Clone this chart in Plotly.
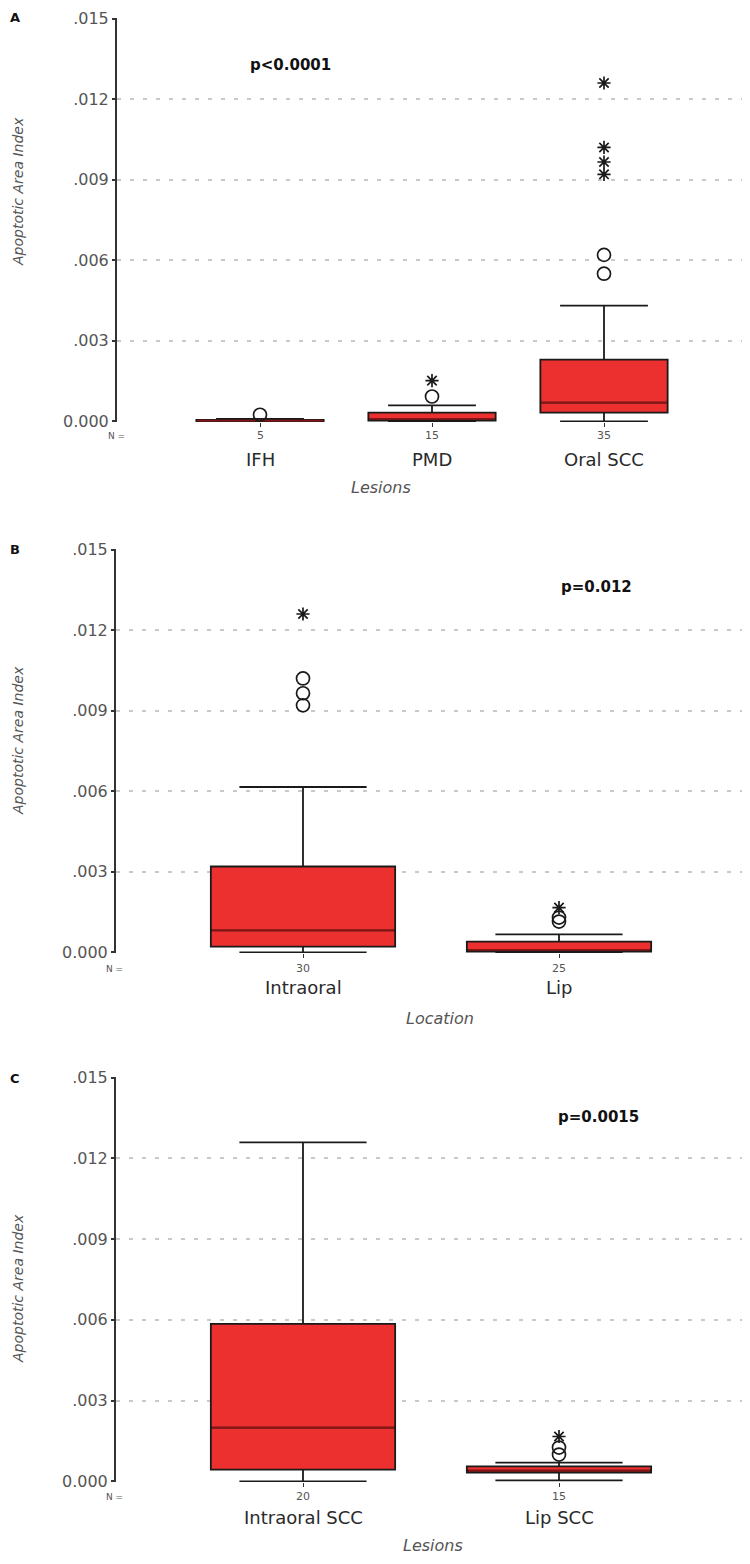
import plotly.graph_objects as go

# ---------------- data ----------------
a_cats = ["IFH", "PMD", "Oral SCC"]
a_n = ["5", "15", "35"]
a_lf = [0.0, 0.0, 0.0]
a_q1 = [0.0, 0.00003, 0.00033]
a_med = [0.00003, 0.0001, 0.0007]
a_q3 = [0.00006, 0.00033, 0.0023]
a_uf = [0.0001, 0.0006, 0.00431]
a_circ_x = ["IFH", "PMD", "Oral SCC", "Oral SCC"]
a_circ_y = [0.00025, 0.00093, 0.0062, 0.0055]
a_star_x = ["PMD", "Oral SCC", "Oral SCC", "Oral SCC", "Oral SCC"]
a_star_y = [0.00152, 0.0126, 0.0102, 0.00966, 0.0092]

b_cats = ["Intraoral", "Lip"]
b_n = ["30", "25"]
b_lf = [0.0, 0.0]
b_q1 = [0.00022, 0.00003]
b_med = [0.00082, 0.0001]
b_q3 = [0.0032, 0.0004]
b_uf = [0.00616, 0.00067]
b_circ_x = ["Intraoral", "Intraoral", "Intraoral", "Lip", "Lip"]
b_circ_y = [0.0102, 0.00965, 0.0092, 0.0013, 0.00115]
b_star_x = ["Intraoral", "Lip"]
b_star_y = [0.0126, 0.00167]

c_cats = ["Intraoral SCC", "Lip SCC"]
c_n = ["20", "15"]
c_lf = [0.0, 0.00004]
c_q1 = [0.00044, 0.00033]
c_med = [0.002, 0.0004]
c_q3 = [0.00585, 0.00056]
c_uf = [0.01259, 0.0007]
c_circ_x = ["Lip SCC", "Lip SCC"]
c_circ_y = [0.00126, 0.0010]
c_star_x = ["Lip SCC"]
c_star_y = [0.00167]

y_ticks = [0.0, 0.003, 0.006, 0.009, 0.012, 0.015]
y_ticktext = ["0.000", ".003", ".006", ".009", ".012", ".015"]

# ---------------- figure ----------------
OFF = 8                      # page body margin
W, H = 750 - 2 * OFF, 1564 - 2 * OFF
FONT = "DejaVu Sans, Verdana, sans-serif"
RED = "#ec2f2f"
DARK = "#1a1a1a"


def px_y(p):
    return min(1.0, max(0.0, 1 - (p - OFF) / H))


def px_x(p):
    return min(1.0, max(0.0, (p - OFF) / W))


fig = go.Figure()

panels = [
    dict(cats=a_cats, n=a_n, lf=a_lf, q1=a_q1, med=a_med, q3=a_q3, uf=a_uf,
         cx=a_circ_x, cy=a_circ_y, sx=a_star_x, sy=a_star_y,
         width=0.74, xdom=[117, 742], cpos=(260, 432),
         ydom=[422, 18],
         letter="A", letter_pos=(15, 17), p="p<0.0001", p_pos=(290, 65),
         ytitle_pos=(18, 192), xtitle="Lesions", xtitle_pos=(381, 487),
         n_pos=(116, 436), n_shift=14, cat_shift=38),
    dict(cats=b_cats, n=b_n, lf=b_lf, q1=b_q1, med=b_med, q3=b_q3, uf=b_uf,
         cx=b_circ_x, cy=b_circ_y, sx=b_star_x, sy=b_star_y,
         width=0.72, xdom=[116, 742], cpos=(303, 559),
         ydom=[953, 549],
         letter="B", letter_pos=(15, 549), p="p=0.012", p_pos=(596, 587),
         ytitle_pos=(18, 741), xtitle="Location", xtitle_pos=(440, 1018),
         n_pos=(115, 969), n_shift=16, cat_shift=35),
    dict(cats=c_cats, n=c_n, lf=c_lf, q1=c_q1, med=c_med, q3=c_q3, uf=c_uf,
         cx=c_circ_x, cy=c_circ_y, sx=c_star_x, sy=c_star_y,
         width=0.72, xdom=[116, 742], cpos=(303, 559),
         ydom=[1482, 1077],
         letter="C", letter_pos=(15, 1078), p="p=0.0015", p_pos=(598, 1117),
         ytitle_pos=(18, 1289), xtitle="Lesions", xtitle_pos=(433, 1545),
         n_pos=(115, 1497), n_shift=15, cat_shift=36),
]

annotations = []
for i, pn in enumerate(panels):
    suffix = "" if i == 0 else str(i + 1)
    xa, ya = "x" + suffix, "y" + suffix
    # category-axis range so that categories 0 and 1 land at the pixel centres
    c0, c1 = pn["cpos"]
    sp = c1 - c0
    xrange = [(pn["xdom"][0] - c0) / sp, (pn["xdom"][1] - c0) / sp]

    fig.add_trace(go.Box(
        x=pn["cats"], q1=pn["q1"], median=pn["med"], q3=pn["q3"],
        lowerfence=pn["lf"], upperfence=pn["uf"],
        xaxis=xa, yaxis=ya, width=pn["width"], whiskerwidth=0.69,
        fillcolor=RED, line=dict(color=DARK, width=1.8),
        boxpoints=False, showlegend=False, hoverinfo="skip"))
    fig.add_trace(go.Box(
        x=pn["cats"], q1=pn["med"], median=pn["med"], q3=pn["med"],
        lowerfence=pn["med"], upperfence=pn["med"],
        xaxis=xa, yaxis=ya, width=pn["width"] * 0.985, whiskerwidth=0,
        fillcolor="rgba(0,0,0,0)", line=dict(color="#8a1414", width=1.8),
        boxpoints=False, showlegend=False, hoverinfo="skip"))
    fig.add_trace(go.Scatter(
        x=pn["cx"], y=pn["cy"], mode="markers", xaxis=xa, yaxis=ya,
        marker=dict(symbol="circle-open", size=13, color=DARK, line=dict(width=1.7)),
        showlegend=False, hoverinfo="skip"))
    fig.add_trace(go.Scatter(
        x=pn["sx"], y=pn["sy"], mode="markers", xaxis=xa, yaxis=ya,
        marker=dict(symbol="asterisk-open", size=11, color=DARK,
                    line=dict(width=1.7, color=DARK)),
        showlegend=False, hoverinfo="skip"))

    fig.update_layout(**{
        "xaxis" + suffix: dict(
            domain=[px_x(pn["xdom"][0]), px_x(pn["xdom"][1])],
            anchor=ya, type="category", range=xrange,
            showgrid=False, zeroline=False, showline=False,
            ticks="outside", ticklen=4, tickwidth=1.2, tickcolor="#333",
            showticklabels=False, automargin=False, fixedrange=True),
        "yaxis" + suffix: dict(
            domain=[px_y(pn["ydom"][0]), px_y(pn["ydom"][1])],
            anchor=xa, range=[-0.00002, 0.01502],
            tickvals=y_ticks, ticktext=y_ticktext,
            showgrid=True, gridcolor="#c9c9c9", gridwidth=2, griddash="4px,9px",
            zeroline=False, showline=True, linecolor="#333", linewidth=2,
            ticks="outside", ticklen=3, tickwidth=1.5, tickcolor="#333",
            tickfont=dict(family=FONT, size=16, color="#555"),
            automargin=False, fixedrange=True),
    })

    for c, nv in zip(pn["cats"], pn["n"]):
        annotations.append(dict(x=c, y=0, xref=xa, yref=ya, yshift=-pn["n_shift"],
                                xanchor="center", yanchor="middle",
                                text=nv, showarrow=False,
                                font=dict(family=FONT, size=11, color="#555")))
        annotations.append(dict(x=c, y=0, xref=xa, yref=ya, yshift=-pn["cat_shift"],
                                xanchor="center", yanchor="middle",
                                text=c, showarrow=False,
                                font=dict(family=FONT, size=18, color="#2a2a2a")))
    annotations.append(dict(x=px_x(pn["n_pos"][0]), y=px_y(pn["n_pos"][1]), xref="paper", yref="paper",
                            xanchor="center", yanchor="middle",
                            text="N =", showarrow=False, font=dict(family=FONT, size=9, color="#555")))
    annotations.append(dict(x=px_x(pn["letter_pos"][0]), y=px_y(pn["letter_pos"][1]), xref="paper", yref="paper",
                            xanchor="center", yanchor="middle",
                            text="<b>" + pn["letter"] + "</b>", showarrow=False,
                            font=dict(family=FONT, size=13, color="#111")))
    annotations.append(dict(x=px_x(pn["p_pos"][0]), y=px_y(pn["p_pos"][1]), xref="paper", yref="paper",
                            xanchor="center", yanchor="middle",
                            text="<b>" + pn["p"] + "</b>", showarrow=False,
                            font=dict(family=FONT, size=15, color="#111")))
    annotations.append(dict(x=px_x(pn["ytitle_pos"][0]), y=px_y(pn["ytitle_pos"][1]), xref="paper", yref="paper",
                            xanchor="center", yanchor="middle",
                            text="<i>Apoptotic Area Index</i>", showarrow=False, textangle=-90,
                            font=dict(family=FONT, size=14, color="#555")))
    annotations.append(dict(x=px_x(pn["xtitle_pos"][0]), y=px_y(pn["xtitle_pos"][1]), xref="paper", yref="paper",
                            xanchor="center", yanchor="middle",
                            text="<i>" + pn["xtitle"] + "</i>", showarrow=False,
                            font=dict(family=FONT, size=16, color="#555")))

fig.update_layout(
    width=W, height=H, margin=dict(l=0, r=0, t=0, b=0, autoexpand=False),
    paper_bgcolor="white", plot_bgcolor="white",
    boxmode="overlay", annotations=annotations,
)

fig.write_html("out.html")
